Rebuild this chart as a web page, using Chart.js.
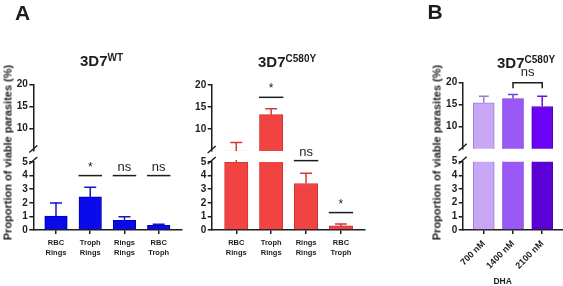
<!DOCTYPE html>
<html>
<head>
<meta charset="utf-8">
<script src="https://cdn.jsdelivr.net/npm/chart.js@4.4.1/dist/chart.umd.min.js"></script>
<style>
html, body { margin: 0; padding: 0; background: #fff; }
#wrap { position: relative; width: 563px; height: 286px; overflow: hidden;
        font-family: "Liberation Sans", Arial, Helvetica, sans-serif; color: #1d1d1d; }
#wrap canvas { position: absolute; left: 0; top: 0; }
.txt { position: absolute; font-weight: bold; white-space: nowrap; z-index: 2; }
.letter { font-size: 21px; line-height: 21px; }
.title { font-size: 15px; line-height: 15px; }
.title span { position: relative; top: -5px; font-size: 10px; line-height: 10px; }
.ytitle { width: 220px; height: 13px; font-size: 11px; line-height: 13px; text-align: center; transform: rotate(-90deg); }
</style>
</head>
<body>
<div id="wrap">
  <canvas id="wtTop" width="563" height="286"></canvas>
  <canvas id="wtBottom" width="563" height="286"></canvas>
  <canvas id="mutTop" width="563" height="286"></canvas>
  <canvas id="mutBottom" width="563" height="286"></canvas>
  <canvas id="dhaTop" width="563" height="286"></canvas>
  <canvas id="dhaBottom" width="563" height="286"></canvas>

  <div class="txt letter" style="left:15px; top:2px;">A</div>
  <div class="txt letter" style="left:427.5px; top:1px;">B</div>
  <div class="txt title" style="left:80px; top:53px;">3D7<span>WT</span></div>
  <div class="txt title" style="left:258px; top:54px;">3D7<span>C580Y</span></div>
  <div class="txt title" style="left:497px; top:54.5px;">3D7<span>C580Y</span></div>
  <div class="txt ytitle" style="left:-102px; top:145.5px;">Proportion of viable parasites (%)</div>
  <div class="txt ytitle" style="left:327px; top:145.5px;">Proportion of viable parasites (%)</div>
  <div class="txt" style="left:482.7px; top:276px; width:40px; text-align:center; font-size:8.5px; line-height:10px;">DHA</div>
</div>

<script>
// categories
const stageLabels = ['RBC Rings', 'Troph Rings', 'Rings Rings', 'RBC Troph'];
const doseLabels = ['700 nM', '1400 nM', '2100 nM'];

// mean and upper SD (%)
const wtMean = [1.03, 2.43, 0.72, 0.35];
const wtSd = [0.96, 0.72, 0.26, 0.07];
const mutMean = [5.0, 13.25, 3.42, 0.3];
const mutSd = [1.95, 1.35, 0.76, 0.14];
const dhaMean = [15.45, 16.4, 14.6];
const dhaSd = [1.45, 0.9, 2.3];

// broken y axis
const lowerTicks = [0, 1, 2, 3, 4, 5];
const upperTicks = [10, 15, 20];

// significance marks
const wtSigAt = [1, 2, 3];
const wtSigY = [4, 4, 4];
const wtSigText = ['*', 'ns', 'ns'];
const mutSigAt = [1, 2, 3];
const mutSigY = [17.2, 5.1, 1.28];
const mutSigText = ['*', 'ns', '*'];
const dhaBracket = [1, 2];
const dhaBracketY = 20;
const dhaSigText = 'ns';

const ink = '#1d1d1d';
const family = '"Liberation Sans", Arial, Helvetica, sans-serif';

// error bars (upper whisker only)
const errBars = {
    id: 'errBars',
    afterDatasetsDraw(chart, args, o) {
        if (!o.sd) return;
        const { ctx, chartArea: a, scales: { y } } = chart;
        const meta = chart.getDatasetMeta(0);
        const ds = chart.data.datasets[0];
        ctx.save();
        ctx.beginPath();
        ctx.rect(a.left, a.top - 2, a.right - a.left, a.bottom - a.top + 2);
        ctx.clip();
        ctx.lineWidth = 1.5;
        meta.data.forEach((bar, i) => {
            const v = ds.data[i].y;
            const y0 = y.getPixelForValue(v);
            const y1 = y.getPixelForValue(v + o.sd[i]);
            ctx.strokeStyle = o.colors[i];
            ctx.beginPath();
            ctx.moveTo(bar.x, y0);
            ctx.lineTo(bar.x, y1);
            ctx.moveTo(bar.x - o.cap, y1);
            ctx.lineTo(bar.x + o.cap, y1);
            ctx.stroke();
        });
        ctx.restore();
    }
};

// "*" / "ns" lines and brackets
const sigMarks = {
    id: 'sigMarks',
    afterDraw(chart, args, o) {
        if (!o.marks || !o.marks.length) return;
        const { ctx, scales: { x, y } } = chart;
        ctx.save();
        ctx.strokeStyle = ink;
        ctx.fillStyle = ink;
        ctx.lineWidth = 1.5;
        ctx.textAlign = 'center';
        ctx.textBaseline = 'alphabetic';
        o.marks.forEach(m => {
            const yy = y.getPixelForValue(m.y);
            let x0, x1;
            ctx.beginPath();
            if (m.bracket) {
                x0 = x.getPixelForValue(m.from);
                x1 = x.getPixelForValue(m.to);
                ctx.moveTo(x0, yy + 5.6);
                ctx.lineTo(x0, yy);
                ctx.lineTo(x1, yy);
                ctx.lineTo(x1, yy + 5.6);
            } else {
                const xc = x.getPixelForValue(m.at);
                x0 = xc - o.half;
                x1 = xc + o.half;
                ctx.moveTo(x0, yy);
                ctx.lineTo(x1, yy);
            }
            ctx.stroke();
            ctx.font = (m.text === '*' ? '12px ' : '13px ') + family;
            ctx.fillText(m.text, (x0 + x1) / 2, yy - (m.bracket ? 6.5 : 5));
        });
        ctx.restore();
    }
};

// slash marks at the axis break
const axisBreak = {
    id: 'axisBreak',
    afterDraw(chart, args, o) {
        if (!o.at) return;
        const { ctx, chartArea: a } = chart;
        const cy = (o.at === 'bottom' ? a.bottom : a.top) - 1.5;
        ctx.save();
        ctx.strokeStyle = ink;
        ctx.lineWidth = 1.5;
        ctx.beginPath();
        ctx.moveTo(a.left - 4, cy + 3.5);
        ctx.lineTo(a.left + 4, cy - 3.5);
        ctx.stroke();
        ctx.restore();
    }
};

Chart.register(errBars, sigMarks, axisBreak);

function panelChart(canvasId, p, part) {
    const upper = part === 'upper';
    const top = upper ? p.upperTop : p.lowerTop;
    const bottom = upper ? p.upperBottom : 230;
    const xH = p.rotate ? 56 : 30;
    const marks = p.marks.filter(m => (m.y > 6) === upper);
    const fill = upper ? p.fillUpper : p.fillLower;

    return new Chart(document.getElementById(canvasId), {
        type: 'bar',
        data: {
            datasets: [{
                data: p.mean.map((v, i) => ({ x: i, y: v })),
                backgroundColor: fill,
                borderColor: p.border,
                borderWidth: 1,
                barThickness: p.barW,
                clip: 0
            }]
        },
        options: {
            responsive: false,
            animation: false,
            devicePixelRatio: 1,
            layout: {
                padding: {
                    left: p.axisX - 30,
                    right: 563 - p.right,
                    top: top,
                    bottom: upper ? 286 - bottom : 286 - bottom - xH
                }
            },
            plugins: {
                legend: { display: false },
                tooltip: { enabled: false },
                title: { display: false },
                errBars: { sd: p.sd, colors: p.errColor, cap: p.cap },
                sigMarks: { marks: marks, half: p.barW / 2 + 0.5 },
                axisBreak: { at: upper ? 'bottom' : 'top' }
            },
            scales: {
                x: {
                    type: 'linear',
                    min: p.xMin,
                    max: p.xMax,
                    bounds: 'data',
                    offset: false,
                    display: !upper,
                    z: 1,
                    afterBuildTicks: s => { s.ticks = p.labels.map((_, i) => ({ value: i })); },
                    afterFit: s => {
                        if (!upper) s.height = xH;
                        s.paddingLeft = 0;
                        s.paddingRight = 0;
                    },
                    grid: { offset: false, drawOnChartArea: false, tickLength: 4, color: ink, lineWidth: 1.5 },
                    border: { display: true, color: ink, width: 1.5 },
                    ticks: {
                        autoSkip: false,
                        minRotation: p.rotate ? 45 : 0,
                        maxRotation: p.rotate ? 45 : 0,
                        padding: 4,
                        color: ink,
                        font: { family: family, size: p.rotate ? 9 : 7.5, weight: 'bold', lineHeight: 1.35 },
                        callback: v => {
                            const s = p.labels[v];
                            if (s === undefined) return '';
                            return p.rotate ? s : s.split(' ');
                        }
                    }
                },
                y: {
                    min: upper ? 5 : 0,
                    max: upper ? 20 : 5,
                    bounds: 'data',
                    z: 1,
                    afterBuildTicks: s => { s.ticks = (upper ? upperTicks : lowerTicks).map(v => ({ value: v })); },
                    afterFit: s => {
                        s.width = 30;
                        s.paddingTop = 0;
                        s.paddingBottom = 0;
                    },
                    grid: { drawOnChartArea: false, tickLength: 4, color: ink, lineWidth: 1.5 },
                    border: { display: true, color: ink, width: 1.5 },
                    ticks: {
                        autoSkip: false,
                        padding: 1.5,
                        color: ink,
                        font: { family: family, size: 10, weight: 'bold' }
                    }
                }
            }
        }
    });
}

const wtPanel = {
    labels: stageLabels, mean: wtMean, sd: wtSd,
    fillUpper: '#0a0aeb', fillLower: '#0a0aeb', border: '#0000b4',
    errColor: ['#1414c8', '#1414c8', '#1414c8', '#1414c8'],
    axisX: 33.3, right: 181.7, barW: 22.5, cap: 6,
    xMin: -0.663, xMax: 3.672,
    upperTop: 84.5, upperBottom: 150.5, lowerTop: 162,
    rotate: false,
    marks: wtSigAt.map((c, i) => ({ at: c, y: wtSigY[i], text: wtSigText[i] }))
};

const mutPanel = {
    labels: stageLabels, mean: mutMean, sd: mutSd,
    fillUpper: '#f24343', fillLower: '#f24343', border: '#cf3030',
    errColor: ['#d83636', '#d83636', '#d83636', '#d83636'],
    axisX: 211.7, right: 365, barW: 23.4, cap: 6,
    xMin: -0.705, xMax: 3.69,
    upperTop: 85, upperBottom: 151, lowerTop: 162,
    rotate: false,
    marks: mutSigAt.map((c, i) => ({ at: c, y: mutSigY[i], text: mutSigText[i] }))
};

const dhaPanel = {
    labels: doseLabels, mean: dhaMean, sd: dhaSd,
    fillUpper: ['#c8a8f6', '#9a58f6', '#6c02f4'],
    fillLower: ['#c8a8f6', '#9a58f6', '#5a02d4'],
    border: ['#9c7cd6', '#7a3cd8', '#4f00b8'],
    errColor: ['#9c7cd6', '#7a3cd8', '#6a10d8'],
    axisX: 462.7, right: 563, barW: 21, cap: 5,
    xMin: -0.72, xMax: 2.71,
    upperTop: 82.7, upperBottom: 148.7, lowerTop: 161.7,
    rotate: true,
    marks: [{ bracket: true, from: dhaBracket[0], to: dhaBracket[1], y: dhaBracketY, text: dhaSigText }]
};

panelChart('wtTop', wtPanel, 'upper');
panelChart('wtBottom', wtPanel, 'lower');
panelChart('mutTop', mutPanel, 'upper');
panelChart('mutBottom', mutPanel, 'lower');
panelChart('dhaTop', dhaPanel, 'upper');
panelChart('dhaBottom', dhaPanel, 'lower');
</script>
</body>
</html>
